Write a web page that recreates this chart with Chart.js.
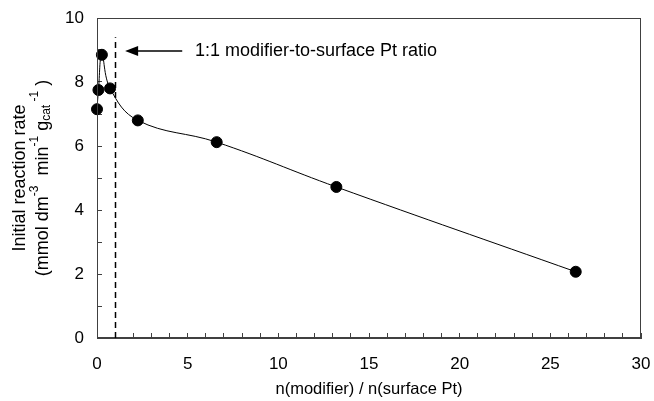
<!DOCTYPE html>
<html>
<head>
<meta charset="utf-8">
<script src="https://cdn.jsdelivr.net/npm/chart.js@4/dist/chart.umd.min.js"></script>
<style>
  html, body { margin: 0; padding: 0; background: #fff; }
  #wrap { width: 654px; height: 401px; }
</style>
</head>
<body>
<div id="wrap"><canvas id="rateChart" width="654" height="401"></canvas></div>
<script>
// ratio n(modifier)/n(surface Pt) and initial rate values
const ratioValues = [0, 0.08, 0.27, 0.72, 2.25, 6.6, 13.2, 26.4];
const rateValues = [7.15, 7.75, 8.85, 7.8, 6.8, 6.12, 4.72, 2.07];
const xTickLabels = [0, 5, 10, 15, 20, 25, 30];
const yTickLabels = [0, 2, 4, 6, 8, 10];

const markerX = 1;          // 1:1 ratio line
const markerTop = 9.4;
const noteText = '1:1 modifier-to-surface Pt ratio';

const FONT = "'Liberation Sans', Arial, sans-serif";
const axisColor = '#404040';

// frame, dashed line, arrow note and the y title with sub/superscripts
const extrasPlugin = {
    id: 'extras',
    afterDraw(chart) {
        const ctx = chart.ctx;
        const area = chart.chartArea;
        const xs = chart.scales.x;
        const ys = chart.scales.y;
        ctx.save();

        // box round plot area
        ctx.strokeStyle = axisColor;
        ctx.lineWidth = 1;
        ctx.strokeRect(area.left + 0.5, area.top + 0.5, area.right - area.left - 1, area.bottom - area.top - 1);

        // dashed vertical line
        const dx = Math.round(xs.getPixelForValue(markerX)) + 0.5;
        ctx.strokeStyle = '#000';
        ctx.lineWidth = 1.5;
        ctx.setLineDash([6, 4]);
        ctx.beginPath();
        ctx.moveTo(dx, ys.getPixelForValue(0));
        ctx.lineTo(dx, ys.getPixelForValue(markerTop));
        ctx.stroke();
        ctx.setLineDash([]);

        // arrow
        const ay = ys.getPixelForValue(8.97);
        const ax1 = xs.getPixelForValue(1.55);
        const ax2 = xs.getPixelForValue(4.7);
        ctx.lineWidth = 1.5;
        ctx.beginPath();
        ctx.moveTo(ax2, ay);
        ctx.lineTo(ax1 + 8, ay);
        ctx.stroke();
        ctx.fillStyle = '#000';
        ctx.beginPath();
        ctx.moveTo(ax1, ay);
        ctx.lineTo(ax1 + 13, ay - 5);
        ctx.lineTo(ax1 + 13, ay + 5);
        ctx.closePath();
        ctx.fill();

        ctx.font = '18px ' + FONT;
        ctx.textAlign = 'left';
        ctx.textBaseline = 'middle';
        ctx.fillText(noteText, xs.getPixelForValue(5.4), ay);

        // y title, two rotated lines
        const cy = (area.top + area.bottom) / 2;
        ctx.translate(0, cy);
        ctx.rotate(-Math.PI / 2);
        ctx.textAlign = 'center';
        ctx.textBaseline = 'middle';
        ctx.font = '18px ' + FONT;
        ctx.fillText('Initial reaction rate', 0, 20);

        const parts = [
            { t: '(mmol dm', k: 'n' },
            { t: '-3', k: 'sup' },
            { t: '  min', k: 'n' },
            { t: '-1', k: 'sup' },
            { t: ' g', k: 'n' },
            { t: 'cat', k: 'sub' },
            { t: ' -1', k: 'sup' },
            { t: ' )', k: 'n' }
        ];
        const big = '18px ' + FONT;
        const small = '12px ' + FONT;
        let total = 0;
        parts.forEach(p => {
            ctx.font = p.k === 'n' ? big : small;
            p.w = ctx.measureText(p.t).width;
            total += p.w;
        });
        let px = -total / 2;
        const base = 43;
        ctx.textAlign = 'left';
        parts.forEach(p => {
            ctx.font = p.k === 'n' ? big : small;
            let off = 0;
            if (p.k === 'sup') off = -8;
            if (p.k === 'sub') off = 4;
            ctx.fillText(p.t, px, base + off);
            px += p.w;
        });
        ctx.restore();
    }
};

const ctx = document.getElementById('rateChart').getContext('2d');
new Chart(ctx, {
    type: 'line',
    data: {
        datasets: [{
            data: ratioValues.map((x, i) => ({ x: x, y: rateValues[i] })),
            borderColor: '#000',
            backgroundColor: '#000',
            borderWidth: 1,
            pointRadius: 5.5,
            pointHoverRadius: 5.5,
            pointBackgroundColor: '#000',
            pointBorderColor: '#000',
            tension: 0.4,
            clip: false,
            fill: false
        }]
    },
    options: {
        responsive: false,
        animation: false,
        events: [],
        layout: { padding: { left: 0, right: 13, top: 18, bottom: 0 } },
        plugins: {
            legend: { display: false },
            tooltip: { enabled: false }
        },
        scales: {
            x: {
                type: 'linear',
                min: 0,
                max: 30,
                afterFit(scale) {
                    scale.height = 63;
                    scale.paddingLeft = 0;
                    scale.paddingRight = 0;
                },
                border: { display: true, color: axisColor },
                grid: { drawOnChartArea: false, drawTicks: true, tickLength: -5, color: axisColor },
                ticks: {
                    stepSize: 1,
                    autoSkip: false,
                    maxRotation: 0,
                    padding: 21,
                    color: '#000',
                    font: { family: FONT, size: 17 },
                    callback: v => xTickLabels.includes(v) ? String(v) : ''
                },
                title: {
                    display: true,
                    text: 'n(modifier) / n(surface Pt)',
                    color: '#000',
                    font: { family: FONT, size: 16.5 },
                    padding: { top: 0, bottom: 2 }
                }
            },
            y: {
                type: 'linear',
                min: 0,
                max: 10,
                afterFit(scale) {
                    scale.width = 97;
                    scale.paddingTop = 0;
                    scale.paddingBottom = 0;
                },
                border: { display: true, color: axisColor },
                grid: { drawOnChartArea: false, drawTicks: true, tickLength: -5, color: axisColor },
                ticks: {
                    stepSize: 1,
                    autoSkip: false,
                    padding: 18,
                    color: '#000',
                    font: { family: FONT, size: 17 },
                    callback: v => yTickLabels.includes(v) ? String(v) : ''
                }
            }
        }
    },
    plugins: [extrasPlugin]
});
</script>
</body>
</html>
